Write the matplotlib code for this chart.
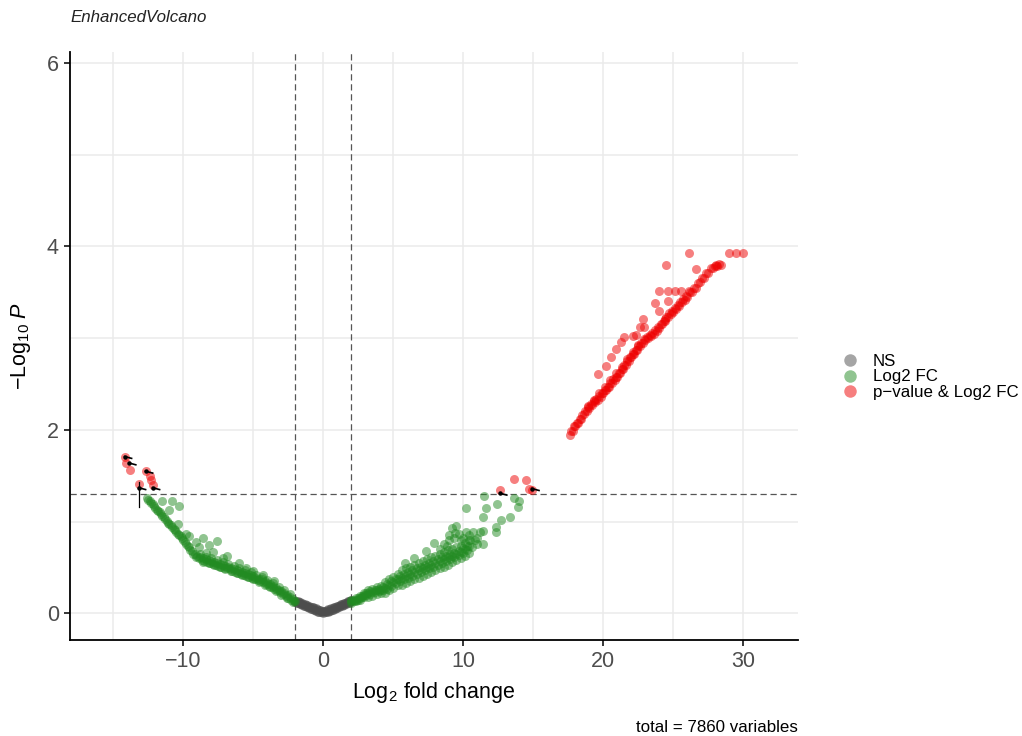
import numpy as np
import matplotlib
matplotlib.use("Agg")
import matplotlib.pyplot as plt
from matplotlib.lines import Line2D

# -log10(p) vs log2 fold change, split into the three significance groups
ns_x = [-2.0, -1.9, -1.8, -1.7, -1.6, -1.5, -1.4, -1.3, -1.2, -1.1,
        -1.0, -0.9, -0.8, -0.7, -0.6, -0.5, -0.4, -0.3, -0.2, -0.1, 0.0,
        0.1, 0.2, 0.3, 0.4, 0.5, 0.6, 0.7, 0.8, 0.9, 1.0,
        1.1, 1.2, 1.3, 1.4, 1.5, 1.6, 1.7, 1.8, 1.9, 2.0,
        -1.95, -1.85, -1.75, -1.65, -1.55, -1.45, -1.35, -1.25, -1.15, -1.05,
        -0.95, -0.85, -0.75, -0.65, -0.55, -0.45, -0.35, -0.25, -0.15, -0.05,
        0.05, 0.15, 0.25, 0.35, 0.45, 0.55, 0.65, 0.75, 0.85, 0.95,
        1.05, 1.15, 1.25, 1.35, 1.45, 1.55, 1.65, 1.75, 1.85, 1.95]
ns_y = [0.12, 0.11, 0.11, 0.10, 0.10, 0.09, 0.08, 0.08, 0.07, 0.07,
        0.06, 0.05, 0.05, 0.04, 0.04, 0.03, 0.02, 0.02, 0.01, 0.01, 0.00,
        0.01, 0.01, 0.02, 0.03, 0.03, 0.04, 0.04, 0.05, 0.06, 0.06,
        0.07, 0.08, 0.08, 0.09, 0.09, 0.10, 0.11, 0.11, 0.12, 0.13,
        0.135, 0.13, 0.125, 0.12, 0.115, 0.105, 0.10, 0.095, 0.09, 0.085,
        0.075, 0.07, 0.065, 0.06, 0.055, 0.045, 0.04, 0.035, 0.03, 0.025,
        0.025, 0.03, 0.035, 0.045, 0.05, 0.055, 0.06, 0.065, 0.075, 0.08,
        0.085, 0.095, 0.10, 0.105, 0.11, 0.115, 0.12, 0.13, 0.135, 0.145]

fc_left_x = [-12.6, -12.4, -12.2, -12.0, -11.8, -11.6, -11.4, -11.2, -11.0, -10.8,
             -10.6, -10.4, -10.2, -10.0, -9.8, -9.6, -9.4, -9.2, -9.0, -8.8,
             -8.6, -8.4, -8.2, -8.0, -7.8, -7.6, -7.4, -7.2, -7.0, -6.8,
             -6.6, -6.4, -6.2, -6.0, -5.8, -5.6, -5.4, -5.2, -5.0, -4.8,
             -4.6, -4.4, -4.2, -4.0, -3.8, -3.6, -3.4, -3.2, -3.0, -2.8,
             -2.6, -2.4, -2.2, -2.0,
             -12.5, -12.3, -12.1, -11.9, -11.7, -11.5, -11.3, -11.1, -10.9, -10.7,
             -10.5, -10.3, -10.1, -9.9, -9.7, -9.5, -9.3, -9.1, -8.9, -8.7,
             -8.5, -8.3, -8.1, -7.9, -7.7, -7.5, -7.3, -7.1, -6.9, -6.7,
             -6.5, -6.3, -6.1, -5.9, -5.7, -5.5, -5.3, -5.1, -4.9, -4.7,
             -4.5, -4.3, -4.1, -3.9, -3.7, -3.5, -3.3, -3.1, -2.9, -2.7,
             -2.5, -2.3, -2.1,
             -8.8, -8.4, -8.0, -7.6, -7.2, -6.8, -6.4, -6.0, -5.6, -5.2,
             -4.8, -4.4, -4.0, -3.6, -3.2, -2.8, -2.4,
             -8.6, -8.2, -7.8, -7.4, -7.0, -6.6, -6.2, -5.8, -5.4, -5.0,
             -4.6, -4.2, -3.8, -3.4, -3.0, -2.6, -2.2,
             -11.5, -10.8, -11.0, -10.3, -10.4, -9.8, -9.6, -8.6, -7.6, -8.2,
             -8.9, -7.9, -6.9, -7.2, -6.0, -5.5, -5.0, -4.3, -3.5, -8.4, -9.1]
fc_left_y = [1.26, 1.22, 1.19, 1.15, 1.12, 1.08, 1.05, 1.01, 0.98, 0.94,
             0.91, 0.87, 0.84, 0.80, 0.76, 0.72, 0.68, 0.65, 0.63, 0.61,
             0.60, 0.59, 0.58, 0.57, 0.56, 0.55, 0.54, 0.53, 0.52, 0.51,
             0.50, 0.48, 0.47, 0.46, 0.45, 0.44, 0.43, 0.42, 0.41, 0.39,
             0.38, 0.37, 0.35, 0.33, 0.32, 0.30, 0.28, 0.26, 0.24, 0.22,
             0.20, 0.18, 0.16, 0.14,
             1.24, 1.20, 1.17, 1.13, 1.10, 1.06, 1.03, 0.99, 0.96, 0.92,
             0.89, 0.85, 0.82, 0.78, 0.73, 0.69, 0.65, 0.62, 0.60, 0.58,
             0.57, 0.56, 0.55, 0.54, 0.53, 0.52, 0.51, 0.50, 0.49, 0.48,
             0.46, 0.45, 0.44, 0.43, 0.42, 0.41, 0.40, 0.39, 0.38, 0.36,
             0.35, 0.34, 0.32, 0.30, 0.29, 0.27, 0.25, 0.23, 0.21, 0.19,
             0.17, 0.15, 0.13,
             0.65, 0.62, 0.60, 0.58, 0.56, 0.54, 0.52, 0.49, 0.47, 0.45,
             0.42, 0.40, 0.36, 0.33, 0.29, 0.25, 0.21,
             0.565, 0.545, 0.525, 0.505, 0.485, 0.465, 0.435, 0.415, 0.395, 0.375,
             0.345, 0.315, 0.285, 0.245, 0.205, 0.165, 0.125,
             1.23, 1.22, 1.13, 1.17, 0.97, 0.87, 0.84, 0.82, 0.79, 0.75,
             0.72, 0.67, 0.63, 0.60, 0.55, 0.50, 0.46, 0.42, 0.35, 0.66, 0.78]

fc_right_x = [2.0, 2.3, 2.6, 2.9, 3.2, 3.5, 3.8, 4.1, 4.4, 4.7,
              5.0, 5.3, 5.6, 5.9, 6.2, 6.5, 6.8, 7.1, 7.4, 7.7,
              8.0, 8.3, 8.6, 8.9, 9.2, 9.5, 9.8, 10.1, 10.4,
              2.0, 2.3, 2.6, 2.9, 3.2, 3.5, 3.8, 4.1, 4.4, 4.7,
              5.0, 5.3, 5.6, 5.9, 6.2, 6.5, 6.8, 7.1, 7.4, 7.7,
              8.0, 8.3, 8.6, 8.9, 9.2, 9.5, 9.8, 10.1, 10.4,
              2.0, 2.3, 2.6, 2.9, 3.2, 3.5, 3.8, 4.1, 4.4, 4.7,
              5.0, 5.3, 5.6, 5.9, 6.2, 6.5, 6.8, 7.1, 7.4, 7.7,
              8.0, 8.3, 8.6, 8.9, 9.2, 9.5, 9.8, 10.1, 10.4,
              2.15, 2.45, 2.75, 3.05, 3.35, 3.65, 3.95, 4.25, 4.55, 4.85,
              5.15, 5.45, 5.75, 6.05, 6.35, 6.65, 6.95, 7.25, 7.55, 7.85,
              8.15, 8.45, 8.75, 9.05, 9.35, 9.65, 9.95, 10.25,
              2.15, 2.45, 2.75, 3.05, 3.35, 3.65, 3.95, 4.25, 4.55, 4.85,
              5.15, 5.45, 5.75, 6.05, 6.35, 6.65, 6.95, 7.25, 7.55, 7.85,
              8.15, 8.45, 8.75, 9.05, 9.35, 9.65, 9.95, 10.25,
              7.9, 8.6, 9.2, 9.0, 9.7, 10.2, 10.7, 11.2, 11.4, 10.2,
              11.5, 11.6, 11.4, 11.4, 12.4, 12.3, 12.3, 12.7, 13.3, 13.6,
              14.0, 13.9, 9.5, 10.0, 10.5, 11.0, 9.3, 8.3, 7.3, 6.5, 5.8,
              9.0, 9.4, 9.8, 10.4, 10.8, 11.0, 10.6, 8.8]
fc_right_y = [0.11, 0.13, 0.15, 0.18, 0.18, 0.19, 0.21, 0.22, 0.22, 0.25,
              0.28, 0.31, 0.31, 0.33, 0.35, 0.37, 0.39, 0.41, 0.43, 0.45,
              0.47, 0.49, 0.51, 0.53, 0.56, 0.58, 0.60, 0.63, 0.66,
              0.15, 0.17, 0.19, 0.22, 0.26, 0.27, 0.29, 0.30, 0.34, 0.37,
              0.40, 0.43, 0.47, 0.49, 0.51, 0.53, 0.55, 0.57, 0.59, 0.61,
              0.63, 0.65, 0.67, 0.69, 0.70, 0.72, 0.74, 0.77, 0.80,
              0.13, 0.15, 0.17, 0.20, 0.22, 0.23, 0.25, 0.26, 0.28, 0.31,
              0.34, 0.37, 0.39, 0.41, 0.43, 0.45, 0.47, 0.49, 0.51, 0.53,
              0.55, 0.57, 0.59, 0.61, 0.63, 0.65, 0.67, 0.70, 0.73,
              0.13, 0.15, 0.18, 0.20, 0.21, 0.23, 0.24, 0.25, 0.27, 0.30,
              0.33, 0.35, 0.37, 0.39, 0.41, 0.43, 0.45, 0.47, 0.49, 0.51,
              0.53, 0.55, 0.57, 0.59, 0.62, 0.64, 0.66, 0.69,
              0.15, 0.17, 0.19, 0.22, 0.24, 0.25, 0.27, 0.29, 0.32, 0.35,
              0.38, 0.41, 0.43, 0.45, 0.47, 0.49, 0.51, 0.53, 0.55, 0.57,
              0.59, 0.61, 0.63, 0.65, 0.66, 0.68, 0.71, 0.74,
              0.77, 0.76, 0.93, 0.86, 0.87, 0.89, 0.89, 0.89, 0.76, 1.15,
              1.28, 1.15, 1.05, 0.90, 1.19, 0.94, 0.89, 1.02, 1.05, 1.26,
              1.23, 1.16, 0.95, 0.82, 0.80, 0.82, 0.82, 0.70, 0.68, 0.60, 0.55,
              0.80, 0.88, 0.80, 0.86, 0.80, 0.76, 0.72, 0.74]

both_x = [-14.2, -14.1, -13.8, -12.7, -12.4, -12.3, -12.2, -13.2,
          12.6, 13.6, 14.5, 14.7, 14.9,
          17.6, 17.8, 18.0, 18.2, 18.4, 18.6, 18.8, 19.0, 19.2, 19.4,
          19.6, 19.8, 20.0, 20.2, 20.4, 20.6, 20.8, 21.0, 21.2, 21.4,
          21.6, 21.8, 22.0, 22.2, 22.4, 22.6, 22.8, 23.0, 23.2, 23.4,
          23.6, 23.8, 24.0, 24.2, 24.4, 24.6, 24.8, 25.0, 25.2, 25.4,
          25.6, 25.8, 26.0, 26.3, 26.6, 26.9, 27.2, 27.5, 27.8, 28.1, 28.4,
          17.7, 17.9, 18.1, 18.3, 18.5, 18.7, 18.9, 19.1, 19.3, 19.5,
          19.7, 19.9, 20.1, 20.3, 20.5, 20.7, 20.9, 21.1, 21.3, 21.5,
          21.7, 21.9, 22.1, 22.3, 22.5, 22.7, 22.9, 23.1, 23.3, 23.5,
          23.7, 23.9, 24.1, 24.3, 24.5, 24.7, 24.9, 25.1, 25.3, 25.5,
          25.7, 25.9, 26.15, 26.45, 26.75, 27.05, 27.35, 27.65, 27.95, 28.25,
          18.9, 19.3, 19.7, 20.1, 20.5, 20.9, 21.3, 21.7, 22.1, 22.5,
          19.6, 20.2, 20.55, 20.9, 21.26, 21.5, 22.1, 22.3, 22.6, 22.8,
          22.9, 23.7, 24.0, 23.95, 24.4, 24.6, 24.5, 24.6, 25.1, 25.55,
          26.1, 26.6, 26.1, 28.05, 29.0, 29.5, 29.95]
both_y = [1.70, 1.64, 1.56, 1.55, 1.50, 1.45, 1.40, 1.41,
          1.34, 1.47, 1.45, 1.36, 1.34,
          1.95, 1.99, 2.04, 2.08, 2.12, 2.17, 2.21, 2.24, 2.27, 2.30,
          2.33, 2.36, 2.40, 2.43, 2.47, 2.51, 2.54, 2.58, 2.62, 2.66,
          2.71, 2.75, 2.79, 2.83, 2.87, 2.91, 2.95, 2.98, 3.00, 3.02,
          3.05, 3.08, 3.11, 3.15, 3.19, 3.23, 3.26, 3.29, 3.32, 3.35,
          3.39, 3.42, 3.45, 3.50, 3.55, 3.61, 3.66, 3.71, 3.76, 3.79, 3.80,
          1.99, 2.04, 2.08, 2.12, 2.16, 2.21, 2.25, 2.28, 2.31, 2.34,
          2.37, 2.40, 2.44, 2.47, 2.51, 2.55, 2.58, 2.62, 2.66, 2.71,
          2.75, 2.79, 2.83, 2.87, 2.91, 2.95, 2.99, 3.01, 3.03, 3.06,
          3.09, 3.12, 3.15, 3.19, 3.23, 3.27, 3.30, 3.33, 3.36, 3.39,
          3.43, 3.46, 3.50, 3.55, 3.60, 3.66, 3.71, 3.76, 3.79, 3.81,
          2.26, 2.33, 2.40, 2.47, 2.54, 2.62, 2.69, 2.77, 2.85, 2.93,
          2.61, 2.70, 2.80, 2.88, 2.96, 3.01, 3.02, 3.04, 3.12, 3.21,
          3.12, 3.38, 3.30, 3.52, 3.21, 3.41, 3.80, 3.52, 3.52, 3.52,
          3.52, 3.75, 3.93, 3.80, 3.93, 3.93, 3.93]

# labelled genes (label text is tiny, only the repel segments show)
lab_x = [-14.2, -13.9, -12.7, -12.2, -13.2, 12.6, 14.9]
lab_y = [1.71, 1.64, 1.55, 1.37, 1.37, 1.31, 1.36]

fc_cutoff = 2.0
p_cutoff = 0.05
n_total = 7860

plt.rcParams.update({'font.family': ['Liberation Sans', 'DejaVu Sans'],
                     'mathtext.fontset': 'custom',
                     'mathtext.rm': 'Liberation Sans',
                     'mathtext.it': 'Liberation Sans:italic'})

fig = plt.figure(figsize=(10.22, 7.36), dpi=100)
ax = fig.add_axes([70 / 1022, 1 - 640 / 736, 728 / 1022, 588 / 736])

pt = dict(s=42, alpha=0.5, linewidths=0, zorder=3)
ax.scatter(ns_x, ns_y, color='#4D4D4D', **pt)
ax.scatter(fc_left_x, fc_left_y, color='#228B22', **pt)
ax.scatter(fc_right_x, fc_right_y, color='#228B22', **pt)
ax.scatter(both_x, both_y, color='#EE0000', **pt)

# repel connectors
for x, y in zip(lab_x, lab_y):
    ax.plot([x, x + 0.5], [y, y - 0.02], color='black', lw=1.2, zorder=4)
    ax.plot([x], [y], 'o', color='black', ms=2.2, zorder=4)
ax.plot([-13.2, -13.2], [1.43, 1.16], color='black', lw=0.9, zorder=4)

dash = dict(color='#555555', lw=0.9, linestyle=(0, (5, 3)), zorder=2)
ax.axvline(-fc_cutoff, **dash)
ax.axvline(fc_cutoff, **dash)
ax.axhline(-np.log10(p_cutoff), **dash)

ax.set_xlim(-18.1, 33.9)
ax.set_ylim(-0.29, 6.12)
ax.set_xticks([-10, 0, 10, 20, 30])
ax.set_xticks([-15, -5, 5, 15, 25], minor=True)
ax.set_yticks([0, 2, 4, 6])
ax.set_yticks([1, 3, 5], minor=True)
ax.grid(True, which='both', color='#EBEBEB', lw=1.1, zorder=0)
ax.set_axisbelow(True)
for s in ['top', 'right']:
    ax.spines[s].set_visible(False)
for s in ['left', 'bottom']:
    ax.spines[s].set_linewidth(1.3)
ax.tick_params(which='major', length=4, width=1.1, color='black',
               labelsize=15.5, labelcolor='#4D4D4D', pad=4)
ax.tick_params(which='minor', length=0)

ax.set_xlabel(r'$\mathrm{Log}_{2}$ fold change', fontsize=15.5, labelpad=6)
ax.set_ylabel(r'$\mathrm{-Log}_{10}\ \mathit{P}$', fontsize=15.5, labelpad=10)

fig.text(70 / 1022, 1 - 18 / 736, 'EnhancedVolcano', fontsize=12.2,
         style='italic', ha='left', va='center', color='#222222')
fig.text(798 / 1022, 1 - 728 / 736, 'total = %d variables' % n_total,
         fontsize=12.2, ha='right', va='center')

handles = [Line2D([], [], marker='o', ls='', ms=9, color=c, alpha=0.5, mew=0)
           for c in ['#4D4D4D', '#228B22', '#EE0000']]
ax.legend(handles, ['NS', 'Log2 FC', 'p\u2212value & Log2 FC'],
          loc='center left', bbox_to_anchor=(842 / 1022, 1 - 377 / 736),
          bbox_transform=fig.transFigure, frameon=False, fontsize=12.2,
          handlelength=1.0, handletextpad=0.8, labelspacing=0.05,
          borderpad=0, borderaxespad=0)

fig.savefig('out.png', dpi=100)
